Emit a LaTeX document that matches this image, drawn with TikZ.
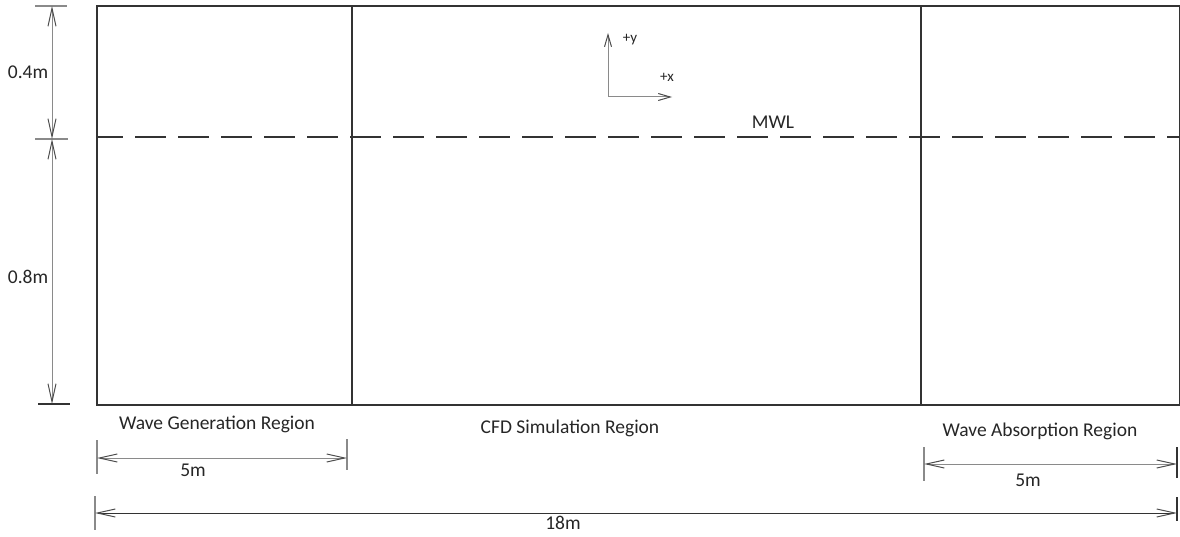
\documentclass[tikz,border=0pt]{standalone}
\usepackage{fontspec}
\setmainfont{Carlito}
\usetikzlibrary{arrows.meta}
\definecolor{boxc}{HTML}{333333}
\definecolor{dimc}{HTML}{8A8A8A}
\begin{document}
\begin{tikzpicture}[x=1pt,y=-1pt,
  boxline/.style={draw=boxc,line width=1.2pt},
  dimline/.style={draw=dimc,line width=1pt},
  tickline/.style={draw=dimc,line width=1.2pt},
  dimarrow/.style={dimline,{Straight Barb[length=18pt,width=8pt,black!70]}-{Straight Barb[length=18pt,width=8pt,black!70]}},
  lbl/.style={font=\fontsize{19.5}{21}\selectfont,text=black!85,inner sep=0pt},
  smalllbl/.style={font=\fontsize{15}{17}\selectfont,text=black!85,inner sep=0pt}]
\useasboundingbox (0,0) rectangle (1180,537);
% main domain
\coordinate (tl) at (97,6);
\coordinate (br) at (1180,405);
\draw[boxline] (tl) rectangle (br);
\coordinate (v1t) at (352,6); \coordinate (v1b) at (352,405);
\coordinate (v2t) at (921,6); \coordinate (v2b) at (921,405);
\draw[boxline] (v1t) -- (v1b);
\draw[boxline] (v2t) -- (v2b);
\coordinate (mwlL) at (97,137); \coordinate (mwlR) at (1180,137);
\draw[draw=boxc,line width=1.3pt,dash pattern=on 31pt off 12pt,dash phase=5pt] (mwlL) -- (mwlR);
\node[lbl] (mwl) at (773,122) {MWL};
% axes
\coordinate (o) at (608,97);
\coordinate (ya) at (608,33);
\coordinate (xa) at (672,97);
\draw[dimline,-{Straight Barb[length=12pt,width=7pt,black!70]}] (o) -- (ya);
\draw[dimline,-{Straight Barb[length=12pt,width=7pt,black!70]}] (o) -- (xa);
\node[smalllbl] (ylab) at (630,40) {+y};
\node[smalllbl] (xlab) at (667,77) {+x};
% left vertical dimensions
\coordinate (t1a) at (35,6); \coordinate (t1b) at (67,6);
\coordinate (t2a) at (35,139); \coordinate (t2b) at (68,139);
\coordinate (t3a) at (38,404); \coordinate (t3b) at (70,404);
\draw[tickline] (t1a) -- (t1b);
\draw[tickline] (t2a) -- (t2b);
\draw[draw=boxc,line width=1.5pt] (t3a) -- (t3b);
\coordinate (d1a) at (52,6); \coordinate (d1b) at (52,139);
\coordinate (d2a) at (52,139); \coordinate (d2b) at (52,404);
\draw[dimarrow] (d1a) -- (d1b);
\draw[dimarrow] (d2a) -- (d2b);
\node[lbl] (l04) at (28,72) {0.4m};
\node[lbl] (l08) at (28,277) {0.8m};
% region labels
\node[lbl] (wg) at (217,424) {Wave Generation Region};
\node[lbl] (cfd) at (570,428) {CFD Simulation Region};
\node[lbl] (wa) at (1040,431) {Wave Absorption Region};
% 5m left
\coordinate (a1) at (97,458); \coordinate (a2) at (347,458);
\draw[tickline] (97,440) -- (97,474);
\draw[tickline] (347,439) -- (347,470);
\draw[dimarrow] (a1) -- (a2);
\node[lbl] (l5a) at (193,470) {5m};
% 5m right
\coordinate (b1) at (924,464); \coordinate (b2) at (1177,464);
\draw[tickline] (924,447) -- (924,481);
\draw[draw=boxc,line width=1.3pt] (1177,447) -- (1177,478);
\draw[dimarrow] (b1) -- (b2);
\node[lbl] (l5b) at (1028,480) {5m};
% 18m
\coordinate (c1) at (95,513); \coordinate (c2) at (1177,513);
\draw[tickline] (95,496) -- (95,530);
\draw[draw=boxc,line width=1.3pt] (1177,497) -- (1177,521);
\draw[dimarrow,draw=boxc] (c1) -- (c2);
\node[lbl] (l18) at (563,523) {18m};
\end{tikzpicture}
\end{document}
